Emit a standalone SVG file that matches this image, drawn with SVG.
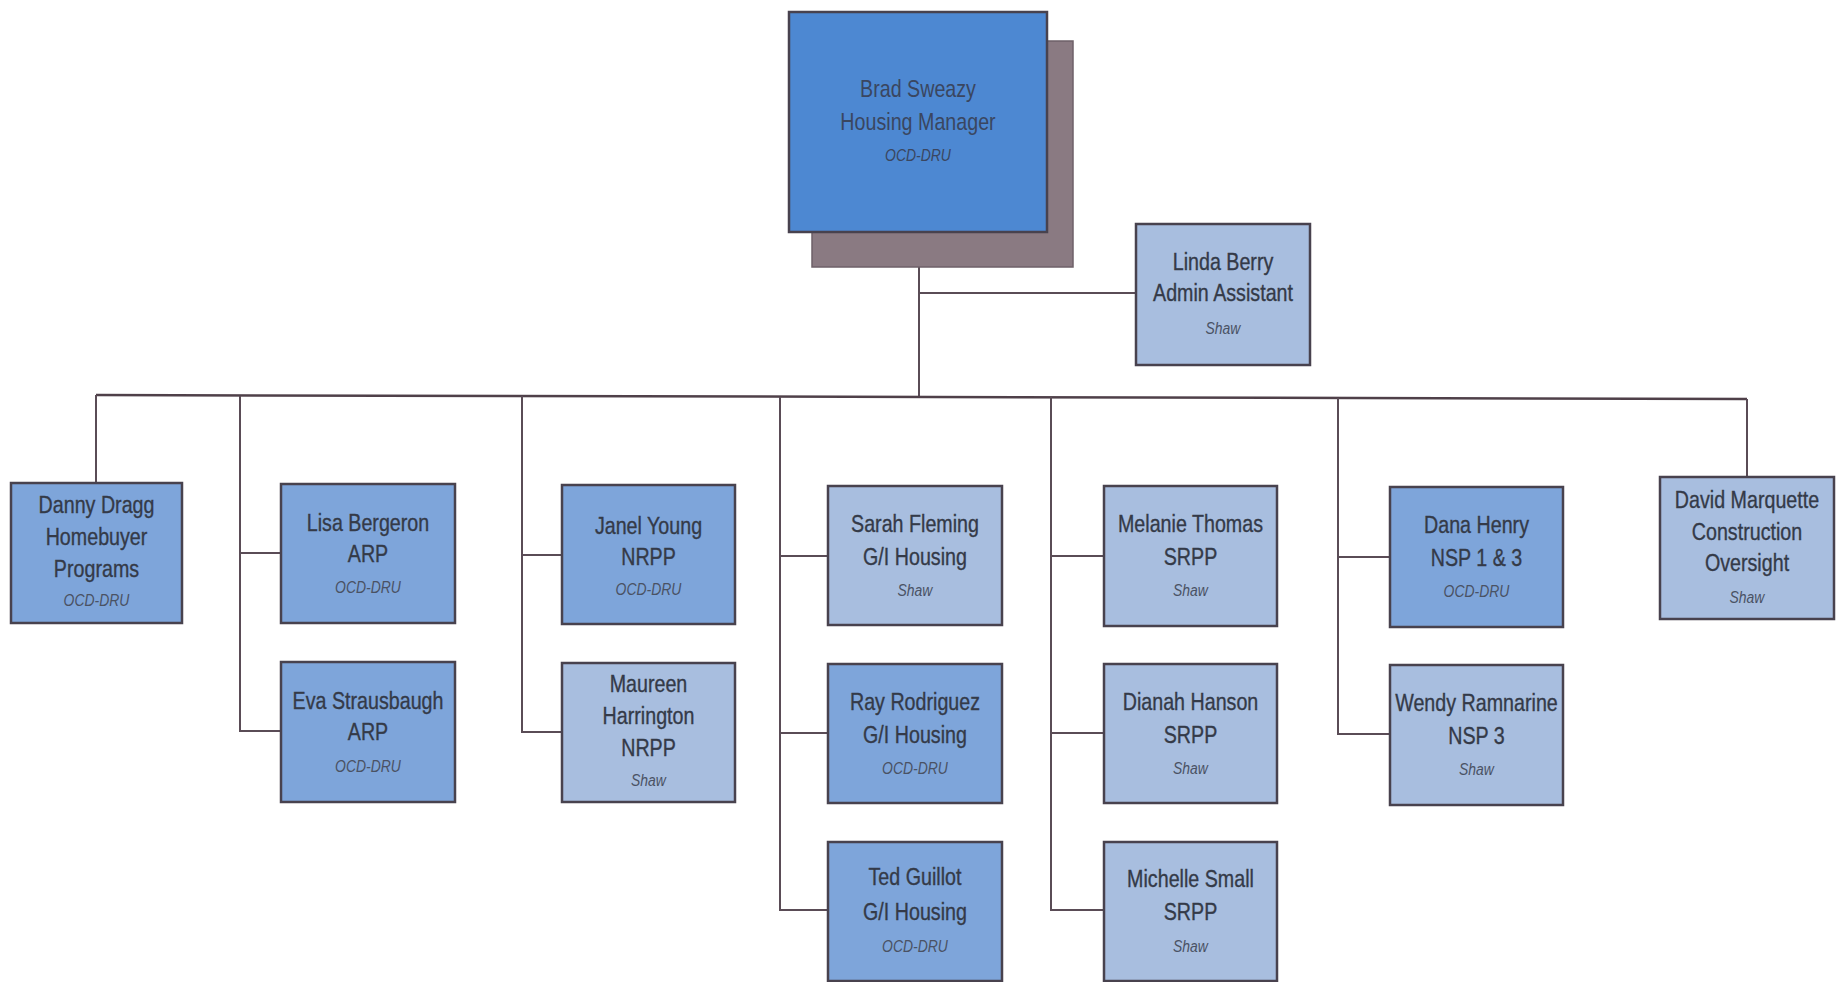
<svg xmlns="http://www.w3.org/2000/svg" width="1839" height="982" viewBox="0 0 1839 982">
<style>
.bg{fill:#ffffff}
.box{stroke:#48424e;stroke-width:2.5}
.mid{fill:#7ea5da}
.light{fill:#a8bedf}
.top{fill:#4d88d2}
.shadow{fill:#8a7a82;stroke:#6e6068;stroke-width:1.5}
.name{font-family:"Liberation Sans",Arial,sans-serif;font-size:24px;fill:#343a48;stroke:#343a48;stroke-width:0.35;text-anchor:middle}
.sub{font-family:"Liberation Sans",Arial,sans-serif;font-size:17px;font-style:italic;fill:#4a5264;text-anchor:middle}
.mgr{fill:#3a4660;stroke:none}
.conn{stroke:#5a4c56;stroke-width:2;fill:none}
.bus{stroke:#4f4049;stroke-width:2.5;fill:none}
</style>
<rect class="bg" x="0" y="0" width="1839" height="982"/>

<g id="connectors">
  <line class="conn" x1="919" y1="267" x2="919" y2="397"/>
  <line class="conn" x1="919" y1="293" x2="1136" y2="293"/>
  <line class="bus" x1="96" y1="395" x2="1747" y2="399"/>
  <line class="conn" x1="96" y1="395" x2="96" y2="483"/>
  <line class="conn" x1="1747" y1="399" x2="1747" y2="477"/>
  <polyline class="conn" points="240,396 240,731 281,731"/>
  <line class="conn" x1="240" y1="553" x2="281" y2="553"/>
  <polyline class="conn" points="522,396 522,732 562,732"/>
  <line class="conn" x1="522" y1="555" x2="562" y2="555"/>
  <polyline class="conn" points="780,397 780,910 828,910"/>
  <line class="conn" x1="780" y1="556" x2="828" y2="556"/>
  <line class="conn" x1="780" y1="733" x2="828" y2="733"/>
  <polyline class="conn" points="1051,397 1051,910 1104,910"/>
  <line class="conn" x1="1051" y1="556" x2="1104" y2="556"/>
  <line class="conn" x1="1051" y1="733" x2="1104" y2="733"/>
  <polyline class="conn" points="1338,398 1338,734 1390,734"/>
  <line class="conn" x1="1338" y1="557" x2="1390" y2="557"/>
</g>

<g id="node-brad">
  <rect class="shadow" x="812" y="41" width="261" height="226"/>
  <rect class="box top" x="789" y="12" width="258" height="220"/>
  <g transform="translate(918 0) scale(0.82 1)">
    <text class="name mgr" x="0" y="97">Brad Sweazy</text>
    <text class="name mgr" x="0" y="130">Housing Manager</text>
    <text class="sub mgr" x="0" y="161" font-size="16">OCD-DRU</text>
  </g>
</g>

<g id="node-linda">
  <rect class="box light" x="1136" y="224" width="174" height="141"/>
  <g transform="translate(1223 0) scale(0.82 1)">
    <text class="name" x="0" y="270">Linda Berry</text>
    <text class="name" x="0" y="301">Admin Assistant</text>
    <text class="sub" x="0" y="334">Shaw</text>
  </g>
</g>

<g id="node-danny">
  <rect class="box mid" x="11" y="483" width="171" height="140"/>
  <g transform="translate(96.5 0) scale(0.82 1)">
    <text class="name" x="0" y="513">Danny Dragg</text>
    <text class="name" x="0" y="545">Homebuyer</text>
    <text class="name" x="0" y="577">Programs</text>
    <text class="sub" x="0" y="606">OCD-DRU</text>
  </g>
</g>

<g id="node-lisa">
  <rect class="box mid" x="281" y="484" width="174" height="139"/>
  <g transform="translate(368 0) scale(0.82 1)">
    <text class="name" x="0" y="531">Lisa Bergeron</text>
    <text class="name" x="0" y="562">ARP</text>
    <text class="sub" x="0" y="593">OCD-DRU</text>
  </g>
</g>

<g id="node-eva">
  <rect class="box mid" x="281" y="662" width="174" height="140"/>
  <g transform="translate(368 0) scale(0.82 1)">
    <text class="name" x="0" y="709">Eva Strausbaugh</text>
    <text class="name" x="0" y="740">ARP</text>
    <text class="sub" x="0" y="772">OCD-DRU</text>
  </g>
</g>

<g id="node-janel">
  <rect class="box mid" x="562" y="485" width="173" height="139"/>
  <g transform="translate(648.5 0) scale(0.82 1)">
    <text class="name" x="0" y="534">Janel Young</text>
    <text class="name" x="0" y="565">NRPP</text>
    <text class="sub" x="0" y="595">OCD-DRU</text>
  </g>
</g>

<g id="node-maureen">
  <rect class="box light" x="562" y="663" width="173" height="139"/>
  <g transform="translate(648.5 0) scale(0.82 1)">
    <text class="name" x="0" y="692">Maureen</text>
    <text class="name" x="0" y="724">Harrington</text>
    <text class="name" x="0" y="756">NRPP</text>
    <text class="sub" x="0" y="786">Shaw</text>
  </g>
</g>

<g id="node-sarah">
  <rect class="box light" x="828" y="486" width="174" height="139"/>
  <g transform="translate(915 0) scale(0.82 1)">
    <text class="name" x="0" y="532">Sarah Fleming</text>
    <text class="name" x="0" y="565">G/I Housing</text>
    <text class="sub" x="0" y="596">Shaw</text>
  </g>
</g>

<g id="node-ray">
  <rect class="box mid" x="828" y="664" width="174" height="139"/>
  <g transform="translate(915 0) scale(0.82 1)">
    <text class="name" x="0" y="710">Ray Rodriguez</text>
    <text class="name" x="0" y="743">G/I Housing</text>
    <text class="sub" x="0" y="774">OCD-DRU</text>
  </g>
</g>

<g id="node-ted">
  <rect class="box mid" x="828" y="842" width="174" height="139"/>
  <g transform="translate(915 0) scale(0.82 1)">
    <text class="name" x="0" y="885">Ted Guillot</text>
    <text class="name" x="0" y="920">G/I Housing</text>
    <text class="sub" x="0" y="952">OCD-DRU</text>
  </g>
</g>

<g id="node-melanie">
  <rect class="box light" x="1104" y="486" width="173" height="140"/>
  <g transform="translate(1190.5 0) scale(0.82 1)">
    <text class="name" x="0" y="532">Melanie Thomas</text>
    <text class="name" x="0" y="565">SRPP</text>
    <text class="sub" x="0" y="596">Shaw</text>
  </g>
</g>

<g id="node-dianah">
  <rect class="box light" x="1104" y="664" width="173" height="139"/>
  <g transform="translate(1190.5 0) scale(0.82 1)">
    <text class="name" x="0" y="710">Dianah Hanson</text>
    <text class="name" x="0" y="743">SRPP</text>
    <text class="sub" x="0" y="774">Shaw</text>
  </g>
</g>

<g id="node-michelle">
  <rect class="box light" x="1104" y="842" width="173" height="139"/>
  <g transform="translate(1190.5 0) scale(0.82 1)">
    <text class="name" x="0" y="887">Michelle Small</text>
    <text class="name" x="0" y="920">SRPP</text>
    <text class="sub" x="0" y="952">Shaw</text>
  </g>
</g>

<g id="node-dana">
  <rect class="box mid" x="1390" y="487" width="173" height="140"/>
  <g transform="translate(1476.5 0) scale(0.82 1)">
    <text class="name" x="0" y="533">Dana Henry</text>
    <text class="name" x="0" y="566">NSP 1 &amp; 3</text>
    <text class="sub" x="0" y="597">OCD-DRU</text>
  </g>
</g>

<g id="node-wendy">
  <rect class="box light" x="1390" y="665" width="173" height="140"/>
  <g transform="translate(1476.5 0) scale(0.82 1)">
    <text class="name" x="0" y="711">Wendy Ramnarine</text>
    <text class="name" x="0" y="744">NSP 3</text>
    <text class="sub" x="0" y="775">Shaw</text>
  </g>
</g>

<g id="node-david">
  <rect class="box light" x="1660" y="477" width="174" height="142"/>
  <g transform="translate(1747 0) scale(0.82 1)">
    <text class="name" x="0" y="508">David Marquette</text>
    <text class="name" x="0" y="540">Construction</text>
    <text class="name" x="0" y="571">Oversight</text>
    <text class="sub" x="0" y="603">Shaw</text>
  </g>
</g>
</svg>
